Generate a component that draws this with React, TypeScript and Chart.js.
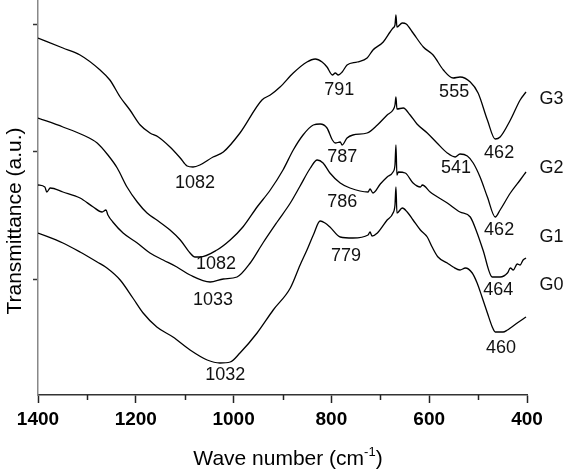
import React, { useEffect, useRef } from 'react';
import { Chart, registerables } from 'chart.js';

Chart.register(...registerables);

const FONT = '"Liberation Sans", Arial, sans-serif';

// Wavenumber (cm-1) and transmittance (a.u., offset spectra)
const g3Wave = [1400,1349,1314,1273,1253,1232,1212,1191,1171,1154,1130,1109,1095,1083,1069,1042,1021,987,942,925,905,878,850,833,819,809,798,792,786,778,768,747,727,715,694,680,674,670,668,666,655,647,633,612,592,571,551,537,516,500,481,465,455,434,414,402];
const g3T = [3.57,3.47,3.40,3.25,3.15,2.98,2.85,2.70,2.62,2.58,2.48,2.37,2.29,2.28,2.30,2.38,2.43,2.62,2.95,3.00,3.08,3.22,3.33,3.36,3.33,3.28,3.20,3.22,3.20,3.23,3.30,3.33,3.37,3.45,3.53,3.63,3.67,3.70,3.80,3.68,3.72,3.71,3.62,3.48,3.40,3.25,3.17,3.18,3.13,3.02,2.75,2.56,2.58,2.75,2.95,3.03];

const g2Wave = [1400,1349,1308,1279,1257,1238,1218,1197,1177,1157,1130,1109,1089,1079,1069,1034,1007,981,952,925,899,878,858,837,823,809,798,792,782,778,768,756,727,706,686,674,670,668,666,653,639,625,604,584,563,547,537,522,510,496,481,465,455,434,414,402];
const g2T = [2.77,2.68,2.60,2.52,2.40,2.27,2.08,1.93,1.82,1.75,1.65,1.55,1.42,1.38,1.38,1.45,1.55,1.68,1.88,2.05,2.25,2.45,2.60,2.70,2.71,2.67,2.55,2.52,2.53,2.50,2.57,2.60,2.62,2.70,2.80,2.85,2.90,2.98,2.86,2.87,2.80,2.71,2.62,2.52,2.42,2.38,2.41,2.39,2.32,2.18,1.98,1.78,1.85,2.02,2.15,2.23];

const g1Wave = [1400,1386,1382,1375,1349,1314,1287,1269,1261,1257,1247,1226,1197,1171,1144,1116,1089,1048,1021,993,966,940,911,884,864,843,829,817,803,782,762,725,721,715,700,686,674,670,668,666,663,649,633,618,614,598,563,537,516,502,490,471,455,440,434,428,420,414,408,402];
const g1T = [2.10,2.08,2.03,2.07,2.03,1.97,1.88,1.83,1.85,1.80,1.73,1.62,1.52,1.42,1.35,1.28,1.20,1.13,1.16,1.18,1.32,1.52,1.73,1.92,2.09,2.27,2.35,2.32,2.22,2.12,2.07,2.03,2.06,2.02,2.11,2.18,2.23,2.30,2.50,2.20,2.23,2.22,2.12,2.08,2.10,2.03,1.92,1.83,1.78,1.62,1.45,1.18,1.18,1.22,1.27,1.25,1.31,1.30,1.35,1.37];

const g0Wave = [1400,1349,1314,1279,1259,1232,1206,1185,1157,1124,1089,1054,1028,1007,987,952,919,884,864,850,837,823,813,803,782,756,725,721,717,706,686,674,670,668,666,655,645,633,618,604,594,582,563,551,537,526,512,502,492,481,471,465,449,440,434,420,402];
const g0T = [1.62,1.52,1.43,1.33,1.27,1.15,0.97,0.82,0.68,0.58,0.45,0.35,0.32,0.33,0.42,0.62,0.85,1.07,1.30,1.45,1.60,1.74,1.72,1.68,1.58,1.57,1.60,1.63,1.59,1.62,1.75,1.82,1.90,2.08,1.82,1.87,1.83,1.75,1.65,1.58,1.48,1.38,1.32,1.28,1.25,1.27,1.22,1.12,0.98,0.82,0.68,0.63,0.63,0.65,0.67,0.72,0.78];

const seriesNames = ['G0', 'G1', 'G2', 'G3'];
const seriesLabelWave = [350, 350, 350, 350];
const seriesLabelT = [1.10, 1.58, 2.27, 2.96];

const peakTexts = ['1082', '791', '555', '462', '787', '541', '462', '786', '1082', '1033', '779', '464', '460', '1032'];
const peakWave = [1079, 784, 549, 457, 778, 545, 457, 778, 1036, 1042, 770, 459, 453, 1017];
const peakT = [2.12, 3.05, 3.03, 2.42, 2.38, 2.27, 1.65, 1.93, 1.31, 0.95, 1.39, 1.05, 0.47, 0.20];

const xTickValues = [1400, 1200, 1000, 800, 600, 400];
const xMinorTicks = [1300, 1100, 900, 700, 500];
const yTickValues = [1.16, 2.43, 3.71];

const xTitle = 'Wave number (cm';
const xTitleSup = '-1';
const xTitleEnd = ')';
const yTitle = 'Transmittance (a.u.)';

export default function App() {
  const ref = useRef<HTMLCanvasElement>(null);

  useEffect(() => {
    const canvas = ref.current;
    if (!canvas) return;
    const zip = (w: number[], t: number[]) => w.map((x, i) => ({ x, y: t[i] }));
    const all = [zip(g0Wave, g0T), zip(g1Wave, g1T), zip(g2Wave, g2T), zip(g3Wave, g3T)];
    const datasets = all.map((data, i) => ({
      label: seriesNames[i],
      data,
      borderColor: '#000',
      borderWidth: 1.3,
      pointRadius: 0,
      fill: false,
      cubicInterpolationMode: 'monotone',
    }));

    const annot = {
      id: 'annot',
      afterDraw(chart: any) {
        const { ctx, chartArea, scales } = chart;
        const xs = scales.x;
        const ys = scales.y;
        ctx.save();
        // minor ticks
        ctx.strokeStyle = '#222';
        ctx.lineWidth = 1.5;
        xMinorTicks.forEach((v) => {
          const px = Math.round(xs.getPixelForValue(v)) + 0.5;
          ctx.beginPath();
          ctx.moveTo(px, chartArea.bottom);
          ctx.lineTo(px, chartArea.bottom + 5);
          ctx.stroke();
        });
        // peak labels
        ctx.fillStyle = '#111';
        ctx.font = `18px ${FONT}`;
        ctx.textAlign = 'center';
        ctx.textBaseline = 'middle';
        peakTexts.forEach((t, i) => {
          ctx.fillText(t, xs.getPixelForValue(peakWave[i]), ys.getPixelForValue(peakT[i]));
        });
        // series labels
        seriesNames.forEach((n, i) => {
          ctx.fillText(n, xs.getPixelForValue(seriesLabelWave[i]), ys.getPixelForValue(seriesLabelT[i]));
        });
        // x title with superscript
        ctx.fillStyle = '#000';
        ctx.textBaseline = 'alphabetic';
        ctx.textAlign = 'left';
        ctx.font = `21px ${FONT}`;
        const w1 = ctx.measureText(xTitle).width;
        const w3 = ctx.measureText(xTitleEnd).width;
        ctx.font = `13px ${FONT}`;
        const w2 = ctx.measureText(xTitleSup).width;
        const total = w1 + w2 + w3;
        const cx = 288;
        let sx = cx - total / 2;
        const base = 465;
        ctx.font = `21px ${FONT}`;
        ctx.fillText(xTitle, sx, base);
        sx += w1;
        ctx.font = `13px ${FONT}`;
        ctx.fillText(xTitleSup, sx, base - 9);
        sx += w2;
        ctx.font = `21px ${FONT}`;
        ctx.fillText(xTitleEnd, sx, base);
        // y title
        ctx.translate(15, 221);
        ctx.rotate(-Math.PI / 2);
        ctx.textAlign = 'center';
        ctx.textBaseline = 'middle';
        ctx.font = `21px ${FONT}`;
        ctx.fillText(yTitle, 0, 0);
        ctx.restore();
      },
    };

    const chart = new Chart(canvas, {
      type: 'line',
      data: { datasets },
      options: {
        responsive: true,
        maintainAspectRatio: false,
        animation: false,
        layout: { padding: { left: 0, right: 41, top: 0, bottom: 0 } },
        plugins: { legend: { display: false }, tooltip: { enabled: false } },
        scales: {
          x: {
            type: 'linear',
            reverse: true,
            min: 400,
            max: 1400,
            afterBuildTicks: (s: any) => {
              s.ticks = xTickValues.map((v) => ({ value: v }));
            },
            afterFit: (s: any) => {
              s.height = 77;
              s.paddingLeft = 0;
              s.paddingRight = 0;
            },
            ticks: {
              font: { family: FONT, size: 19, weight: 'bold' },
              color: '#000',
              padding: 5,
              maxRotation: 0,
              autoSkip: false,
              callback: (v: any) => String(v),
            },
            grid: {
              drawOnChartArea: false,
              drawTicks: true,
              tickLength: 8,
              tickWidth: 1.5,
              tickColor: '#222',
            },
            border: { display: true, color: '#333', width: 1.5 },
          },
          y: {
            type: 'linear',
            min: 0,
            max: 3.95,
            afterBuildTicks: (s: any) => {
              s.ticks = yTickValues.map((v) => ({ value: v }));
            },
            afterFit: (s: any) => {
              s.width = 38;
              s.paddingTop = 0;
              s.paddingBottom = 0;
            },
            ticks: { display: false },
            grid: {
              drawOnChartArea: false,
              drawTicks: true,
              tickLength: 5,
              tickWidth: 1.5,
              tickColor: '#333',
            },
            border: { display: true, color: '#888', width: 1.5 },
          },
        },
      } as any,
      plugins: [annot],
    });
    return () => chart.destroy();
  }, []);

  return (
    <div style={{ position: 'absolute', left: 0, top: 0, width: 568, height: 472, background: '#fff' }}>
      <canvas ref={ref} />
    </div>
  );
}
